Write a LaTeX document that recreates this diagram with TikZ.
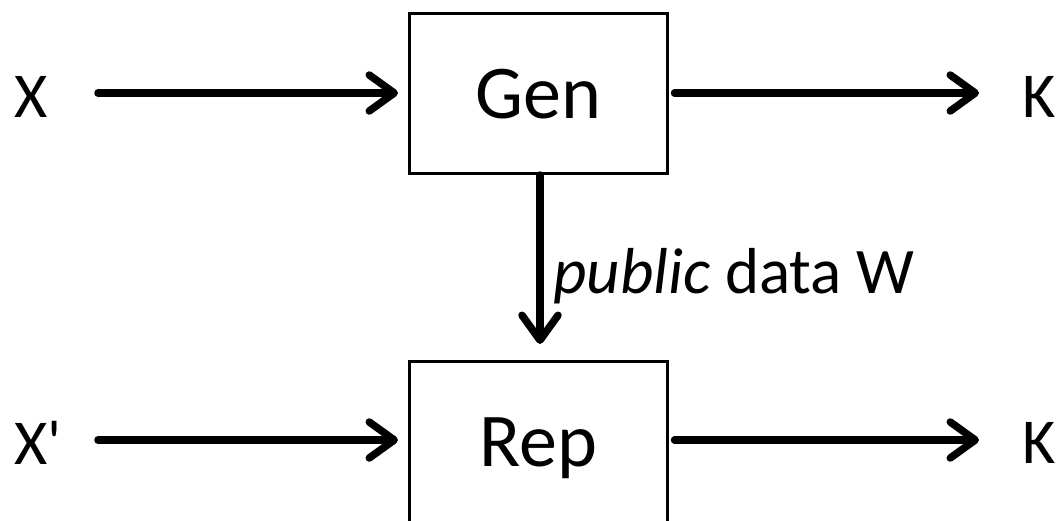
\documentclass[tikz,border=0pt]{standalone}
\usepackage{fontspec}
\setmainfont{Carlito}[Ligatures=TeXOff]
\usetikzlibrary{arrows.meta}
\tikzset{
  block/.style={draw, line width=3pt, minimum width=258pt, minimum height=160pt,
    inner sep=0pt, text height=50pt, text depth=0pt,
    font=\fontsize{76}{82}\selectfont},
  sym/.style={inner sep=0pt, font=\fontsize{64}{70}\selectfont},
  flow/.style={line width=7.5pt, line cap=round,
    -{Straight Barb[length=25pt, width=36pt, round]},
    preaction={draw=black!22, transform canvas={shift={(1.5pt,-2.5pt)}}}},
}
\begin{document}
\begin{tikzpicture}[x=1pt, y=-1pt]
  \clip (0,0) rectangle (1057,520);
  \fill[white] (0,0) rectangle (1057,520);

  % the two blocks (the lower one runs past the bottom edge)
  \node[block] (gen) at (538.5,93.5) {Gen};
  \node[block, minimum height=170pt, text depth=10pt] (rep) at (538.5,446.5) {Rep};

  % inputs and outputs
  \node[sym, anchor=west] (x)  at (14,97)   {X};
  \node[sym, anchor=west] (xp) at (14,443)  {X'};
  \node[sym, anchor=west] (k)  at (1022,97)  {K};
  \node[sym, anchor=west] (kp) at (1022,443) {K};

  % connectors
  \coordinate (xs)  at (98,93);
  \coordinate (xps) at (98,440);
  \draw[flow] (xs)  -- (xs -| gen.west) [shorten >=10pt];
  \draw[flow] (xps) -- (xps -| rep.west) [shorten >=10pt];
  \draw[flow] ([xshift=5.5pt]gen.east |- xs) -- ([xshift=-43pt]k.west |- xs);
  \draw[flow] ([xshift=5.5pt]rep.east |- xps) -- ([xshift=-43pt]kp.west |- xps);
  \draw[flow] ([xshift=1.5pt]gen.south) -- ([xshift=1.5pt,yshift=16pt]rep.north);

  % label of the vertical connector
  \node[anchor=base west, inner sep=0pt, font=\fontsize{65}{70}\selectfont]
    (lbl) at (553,293) {\textit{public} data W};
\end{tikzpicture}
\end{document}
